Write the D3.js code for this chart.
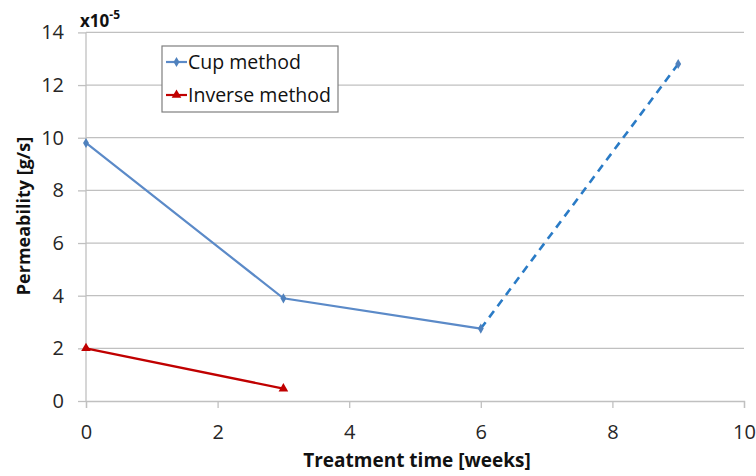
<!DOCTYPE html>
<html><head><meta charset="utf-8">
<script src="https://cdn.jsdelivr.net/npm/d3@7"></script>
<style>body{margin:0;background:#fff}svg{display:block}</style>
</head><body>
<script>
const xTicks = [0, 2, 4, 6, 8, 10];
const yTicks = [0, 2, 4, 6, 8, 10, 12, 14];
const cupX = [0, 3, 6];
const cupY = [9.8, 3.9, 2.75];
const cupExtX = [6, 9];
const cupExtY = [2.75, 12.8];
const invX = [0, 3];
const invY = [2.0, 0.47];
const seriesNames = ["Cup method", "Inverse method"];

const W = 756, H = 476;
const font = "'Open Sans', sans-serif";
const svg = d3.select("body").append("svg").attr("width", W).attr("height", H);
const x = d3.scaleLinear().domain([0, 10]).range([86, 744]);
const y = d3.scaleLinear().domain([0, 14]).range([401, 32.4]);

// gridlines
svg.append("g").selectAll("line").data(yTicks.filter(d => d > 0)).join("line")
  .attr("x1", x(0)).attr("x2", x(10)).attr("y1", d => y(d)).attr("y2", d => y(d))
  .attr("stroke", "#c0c0c0").attr("stroke-width", 1.3);
// y axis line
svg.append("line").attr("x1", x(0)).attr("x2", x(0)).attr("y1", y(0)).attr("y2", y(14))
  .attr("stroke", "#c0c0c0").attr("stroke-width", 1.3);

// y axis
const ya = svg.append("g").attr("transform", `translate(${x(0)},0)`)
  .call(d3.axisLeft(y).tickValues(yTicks).tickSize(8).tickPadding(14).tickFormat(d3.format("d")));
ya.select(".domain").remove();
ya.selectAll(".tick line").attr("stroke", "#c0c0c0").attr("stroke-width", 1.3);
ya.selectAll("text").attr("font-family", font).attr("font-size", 20).attr("fill", "#262626");

// x axis
const xa = svg.append("g").attr("transform", `translate(0,${y(0)})`)
  .call(d3.axisBottom(x).tickValues(xTicks).tickSize(7).tickPadding(17).tickFormat(d3.format("d")));
xa.select(".domain").attr("stroke", "#c0c0c0").attr("stroke-width", 1.3);
xa.selectAll(".tick line").attr("stroke", "#c0c0c0").attr("stroke-width", 1.3);
xa.selectAll("text").attr("font-family", font).attr("font-size", 20).attr("fill", "#262626");

// titles
svg.append("text").attr("x", 417).attr("y", 467).attr("text-anchor", "middle")
  .attr("font-family", font).attr("font-weight", "bold").attr("font-size", 19).attr("fill", "#111")
  .text("Treatment time [weeks]");
svg.append("text").attr("transform", `translate(30,216) rotate(-90)`).attr("text-anchor", "middle")
  .attr("font-family", font).attr("font-weight", "bold").attr("font-size", 18).attr("fill", "#111")
  .text("Permeability [g/s]");
const ex = svg.append("text").attr("x", 80).attr("y", 27)
  .attr("font-family", font).attr("font-weight", "bold").attr("font-size", 17).attr("fill", "#111");
ex.append("tspan").text("x10");
ex.append("tspan").attr("dy", -8).attr("font-size", 12).text("-5");

const line = d3.line().x(d => x(d[0])).y(d => y(d[1]));
const cup = cupX.map((v, i) => [v, cupY[i]]);
const cupExt = cupExtX.map((v, i) => [v, cupExtY[i]]);
const inv = invX.map((v, i) => [v, invY[i]]);

svg.append("path").datum(cupExt).attr("d", line).attr("fill", "none")
  .attr("stroke", "#2a7bc6").attr("stroke-width", 2.6).attr("stroke-dasharray", "8,6");
svg.append("path").datum(cup).attr("d", line).attr("fill", "none")
  .attr("stroke", "#5b8ac8").attr("stroke-width", 2.2);
svg.append("path").datum(inv).attr("d", line).attr("fill", "none")
  .attr("stroke", "#c00000").attr("stroke-width", 2.4);

const diamond = d3.symbol().type(d3.symbolDiamond).size(30);
const tri = d3.symbol().type(d3.symbolTriangle).size(40);
svg.append("g").selectAll("path").data(cup.concat([cupExt[1]])).join("path")
  .attr("d", diamond).attr("transform", d => `translate(${x(d[0])},${y(d[1])})`)
  .attr("fill", "#4f81bd");
svg.append("g").selectAll("path").data(inv).join("path")
  .attr("d", tri).attr("transform", d => `translate(${x(d[0])},${y(d[1])})`)
  .attr("fill", "#c00000");

// legend
const lg = svg.append("g");
lg.append("rect").attr("x", 162).attr("y", 46).attr("width", 176).attr("height", 66)
  .attr("fill", "#fff").attr("stroke", "#7f7f7f").attr("stroke-width", 1.2);
const lcol = ["#5b8ac8", "#c00000"];
[0, 1].forEach(i => {
  const cy = 62 + i * 33;
  lg.append("line").attr("x1", 166).attr("x2", 187).attr("y1", cy).attr("y2", cy)
    .attr("stroke", lcol[i]).attr("stroke-width", 2.2);
  lg.append("path").attr("d", i === 0 ? diamond : tri).attr("transform", `translate(176.5,${cy})`)
    .attr("fill", i === 0 ? "#4f81bd" : "#c00000");
  lg.append("text").attr("x", 188).attr("y", cy + 7).attr("font-family", font)
    .attr("font-size", 19.5).attr("fill", "#111").text(seriesNames[i]);
});
</script>
</body></html>
